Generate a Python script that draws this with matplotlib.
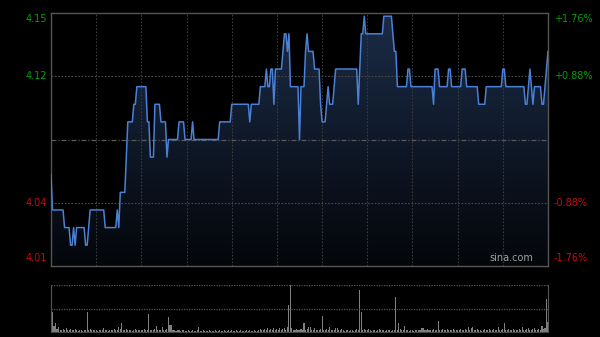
import numpy as np
import matplotlib
matplotlib.use("Agg")
import matplotlib.pyplot as plt
from matplotlib.patches import Polygon

prev_close = 4.08
pct_levels = [0.0176, 0.0088, -0.0088, -0.0176]

# price per minute, written as (price, minutes) runs, 09:30-12:00 + 13:00-16:00
price_runs = [
    (4.06, 1), (4.04, 8), (4.03, 4), (4.02, 2), (4.03, 1), (4.02, 1), (4.03, 6),
    (4.02, 2), (4.03, 1), (4.04, 10), (4.03, 8), (4.04, 1), (4.03, 1), (4.05, 4),
    (4.07, 1), (4.09, 4), (4.10, 2), (4.11, 7), (4.09, 2), (4.07, 3), (4.10, 4),
    (4.09, 4), (4.07, 1), (4.08, 7), (4.09, 4), (4.08, 5), (4.09, 1), (4.08, 17),
    (4.09, 8), (4.10, 12), (4.09, 1), (4.10, 6), (4.11, 4), (4.12, 1), (4.11, 2),
    (4.12, 2), (4.10, 1), (4.12, 5), (4.13, 1), (4.14, 2), (4.13, 1), (4.14, 1),
    (4.11, 6), (4.08, 1), (4.11, 3), (4.13, 1), (4.14, 1), (4.13, 4), (4.12, 4),
    (4.10, 1), (4.09, 3), (4.10, 1), (4.11, 1), (4.10, 3), (4.11, 1), (4.12, 15),
    (4.10, 1), (4.12, 1), (4.14, 2), (4.15, 1), (4.14, 12), (4.15, 6), (4.14, 1),
    (4.13, 2), (4.11, 7), (4.12, 2), (4.11, 15), (4.10, 1), (4.12, 3), (4.11, 6),
    (4.12, 2), (4.11, 7), (4.12, 3), (4.11, 8), (4.10, 5), (4.11, 11), (4.12, 2),
    (4.11, 13), (4.10, 2), (4.11, 1), (4.12, 1), (4.11, 1), (4.10, 1), (4.11, 5),
    (4.10, 2), (4.11, 1), (4.12, 1), (4.13, 1),
]

# volume per minute, one row per half hour
volume = [
    9, 20, 6, 9, 3, 5, 2, 2, 3, 2, 4, 2, 2, 3, 2, 2, 3, 2, 1, 2, 2, 1, 2, 2, 20, 2, 3, 2, 2, 2,
    2, 1, 2, 2, 2, 4, 2, 2, 1, 2, 2, 2, 3, 2, 2, 5, 3, 9, 2, 2, 3, 2, 2, 2, 1, 2, 3, 2, 2, 2,
    2, 2, 3, 2, 2, 18, 2, 2, 2, 3, 6, 2, 2, 2, 5, 2, 2, 3, 15, 7, 7, 2, 2, 1, 2, 2, 1, 2, 2, 1,
    1, 2, 1, 1, 2, 1, 1, 2, 5, 1, 1, 2, 1, 1, 1, 2, 1, 1, 1, 2, 1, 1, 2, 1, 1, 2, 1, 1, 2, 1,
    2, 1, 1, 2, 1, 1, 2, 1, 1, 1, 2, 1, 2, 1, 1, 2, 1, 1, 2, 3, 2, 2, 3, 2, 4, 2, 3, 2, 4, 2,
    3, 2, 4, 2, 3, 4, 2, 5, 27, 47, 4, 2, 2, 3, 2, 2, 3, 2, 9, 2, 3, 5, 5, 2, 2, 4, 2, 2, 2, 3,
    16, 2, 2, 3, 2, 5, 2, 2, 2, 4, 4, 2, 2, 3, 2, 1, 2, 2, 1, 2, 2, 1, 2, 3, 2, 42, 20, 2, 3, 2,
    2, 3, 2, 1, 2, 2, 1, 2, 3, 2, 2, 2, 1, 2, 2, 2, 1, 2, 2, 35, 2, 9, 3, 2, 2, 6, 2, 2, 1, 2,
    2, 1, 2, 2, 2, 2, 4, 4, 2, 2, 3, 2, 2, 2, 3, 2, 2, 11, 2, 2, 3, 2, 2, 3, 2, 2, 2, 3, 2, 2,
    2, 2, 3, 2, 2, 3, 2, 5, 2, 4, 5, 2, 2, 3, 2, 2, 1, 2, 3, 2, 2, 3, 2, 2, 3, 2, 2, 5, 2, 2,
    3, 9, 2, 2, 3, 2, 2, 3, 2, 2, 2, 3, 2, 5, 2, 2, 3, 4, 2, 2, 3, 4, 2, 2, 3, 2, 6, 3, 4, 33,
    10,
]

prices = np.repeat([p for p, n in price_runs], [n for p, n in price_runs])
minutes = np.arange(len(prices))
n_min = len(prices) - 1

grid_c = "#3a3a3a"
frame_c = "#555555"
up_c = "#0a9a0a"
down_c = "#c40d0d"

fig = plt.figure(figsize=(6, 3.37), dpi=100, facecolor="black")
ax = fig.add_axes([51 / 600, 1 - 266 / 337, 497 / 600, 253 / 337])
axv = fig.add_axes([51 / 600, 1 - 332 / 337, 497 / 600, 47 / 337])

lo = prev_close * (1 - 0.0176)
hi = prev_close * (1 + 0.0176)

# price panel
ax.set_facecolor("black")
ax.set_xticks([])
ax.set_yticks([])
for s in ax.spines.values():
    s.set_color(frame_c)
    s.set_linewidth(1)

# gradient fill under the line
poly_xy = np.column_stack([np.r_[minutes, n_min, 0], np.r_[prices, lo, lo]])
poly = Polygon(poly_xy, closed=True, facecolor="none", edgecolor="none")
ax.add_patch(poly)
grad = np.linspace(0, 1, 256).reshape(-1, 1)
top_rgb = np.array([0x1b, 0x2c, 0x48]) / 255
bot_rgb = np.array([0x04, 0x06, 0x0a]) / 255
img = top_rgb * (1 - grad[..., None]) + bot_rgb * grad[..., None]
im = ax.imshow(img, extent=[0, n_min, lo, hi], aspect="auto",
               origin="upper", zorder=1)
im.set_clip_path(poly)
ax.set_xlim(0, n_min)
ax.set_ylim(lo, hi)

for m in range(30, n_min, 30):
    ax.axvline(m, color=grid_c, lw=0.8, ls=(0, (1.5, 1.5)), zorder=2)
for pct in [0.0088, -0.0088]:
    ax.axhline(prev_close * (1 + pct), color="#4a4a4a", lw=0.8, ls=(0, (1.5, 1.5)), zorder=2)
ax.axhline(prev_close, color="#5a5a5a", lw=0.9, ls=(0, (4, 1.5, 1, 1.5)), zorder=2)

ax.plot(minutes, prices, color="#4a80d6", lw=1.1, zorder=3)

# axis labels
for pct in pct_levels:
    val = prev_close * (1 + pct)
    col = up_c if pct > 0 else down_c
    va = "top" if pct == max(pct_levels) else ("bottom" if pct == min(pct_levels) else "center")
    off = -1 if va == "top" else (2 if va == "bottom" else 0)
    ax.annotate(f"{val:.2f}", xy=(0, val), xycoords=("axes fraction", "data"),
                xytext=(-3, off), textcoords="offset points",
                ha="right", va=va, color=col, fontsize=7)
    ax.annotate(f"{pct * 100:+.2f}%", xy=(1, val), xycoords=("axes fraction", "data"),
                xytext=(4, off), textcoords="offset points",
                ha="left", va=va, color=col, fontsize=7)

ax.text(0.97, 0.012, "sina.com", transform=ax.transAxes, ha="right", va="bottom",
        color="#a0a0a0", fontsize=7)

# volume panel
axv.set_facecolor("black")
axv.bar(minutes, volume, width=0.7, color="#808080", linewidth=0)
axv.set_xlim(0, n_min)
axv.set_ylim(0, max(volume))
axv.set_xticks([])
axv.set_yticks([])
for side in ["left", "right"]:
    axv.spines[side].set_color(frame_c)
axv.spines["bottom"].set_color("#444444")
axv.spines["top"].set_visible(False)
axv.axhline(max(volume), color="#555555", lw=0.9, ls=(0, (1, 1)))
axv.axhline(max(volume) / 2, color="#555555", lw=0.9, ls=(0, (1, 1)))

fig.savefig("out.png", dpi=100, facecolor="black")
